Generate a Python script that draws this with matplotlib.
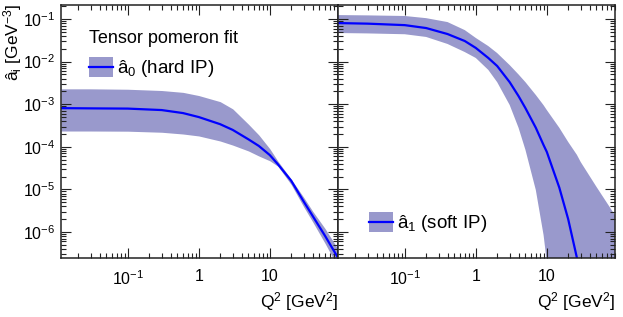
import math
import matplotlib
matplotlib.use('Agg')
import matplotlib.pyplot as plt
from matplotlib.patches import Rectangle
from matplotlib.lines import Line2D
from matplotlib.ticker import LogLocator, FuncFormatter, NullFormatter

plt.rcParams['font.family'] = ['Liberation Sans', 'DejaVu Sans']
plt.rcParams['mathtext.fontset'] = 'custom'
plt.rcParams['mathtext.rm'] = 'Liberation Sans'
plt.rcParams['mathtext.it'] = 'Liberation Sans:italic'
plt.rcParams['mathtext.bf'] = 'Liberation Sans:bold'

# ---- data ----
q2_hard = [0.0115, 0.03, 0.1, 0.3, 0.6, 1, 2, 3, 5, 7, 10, 13, 20, 30, 40, 60, 91]
a0_central = [8.1e-4, 8.0e-4, 7.9e-4, 7.3e-4, 6.2e-4, 5.0e-4, 3.4e-4, 2.5e-4, 1.5e-4, 1.05e-4,
              6.4e-5, 3.9e-5, 1.6e-5, 5.2e-6, 2.4e-6, 8.1e-7, 2.5e-7]
a0_upper = [2.3e-3, 2.3e-3, 2.25e-3, 2.1e-3, 1.9e-3, 1.6e-3, 1.15e-3, 7.8e-4, 3.4e-4, 1.9e-4,
            9.0e-5, 4.6e-5, 1.74e-5, 6.5e-6, 3.1e-6, 1.2e-6, 4.0e-7]
a0_lower = [2.35e-4, 2.35e-4, 2.33e-4, 2.2e-4, 2.0e-4, 1.8e-4, 1.37e-4, 1.1e-4, 8.0e-5, 6.1e-5,
            4.7e-5, 3.5e-5, 1.3e-5, 3.9e-6, 1.75e-6, 5.4e-7, 1.5e-7]

q2_soft = [0.0115, 0.03, 0.1, 0.2, 0.4, 0.7, 1, 1.5, 2, 3, 4, 5, 7, 9, 10, 15, 20, 26.5, 30, 50, 91]
a1_central = [0.0805, 0.078, 0.072, 0.0615, 0.0445, 0.0305, 0.021, 0.0122, 7.9e-3, 3.3e-3, 1.55e-3,
              8.1e-4, 2.8e-4, 1.1e-4, 7.6e-5, 1.1e-5, 2.0e-6, 2.5e-7, 8e-8, 1e-10, 1e-13]
a1_upper = [0.124, 0.122, 0.118, 0.105, 0.085, 0.055, 0.036, 0.0232, 0.0159, 8.3e-3, 5.0e-3,
            3.3e-3, 1.65e-3, 9.5e-4, 7.3e-4, 2.8e-4, 1.3e-4, 6.5e-5, 4.4e-5, 1.15e-5, 2.5e-6]
a1_lower = [0.047, 0.046, 0.044, 0.038, 0.026, 0.0168, 0.0122, 6.4e-3, 3.3e-3, 9.6e-4, 2.8e-4,
            8.5e-5, 9.7e-6, 8.5e-7, 2e-7, 1e-9, 1e-10, 1e-11, 1e-12, 1e-13, 1e-14]

title_text = "Tensor pomeron fit"
label_hard = "â$_{0}$ (hard IP)"
label_soft = "â$_{1}$ (soft IP)"
ylabel_text = "â$_{\\mathrm{i}}$ [GeV$^{-3}$]"
xlabel_text = "Q$^{2}$ [GeV$^{2}$]"

XLIM = (10 ** -1.94, 10 ** 1.96)
YLIM = (10 ** -6.61, 10 ** -0.67)

BAND = '#9999cc'
LINE = '#0000ff'

W, H = 623, 317
fig = plt.figure(figsize=(W / 100, H / 100), dpi=100)


def px(x, y):
    return x / W, 1 - y / H


ax_l = fig.add_axes([61 / W, 1 - 258 / H, 277 / W, 253 / H])
ax_r = fig.add_axes([338 / W, 1 - 258 / H, 277 / W, 253 / H])


def xfmt(v, pos):
    if abs(v - 1) < 1e-9:
        return '1'
    if abs(v - 10) < 1e-9:
        return '10'
    e = int(round(math.log10(v)))
    return '$10^{%d}$' % e


def yfmt(v, pos):
    e = int(round(math.log10(v)))
    return '$10^{%d}$' % e


for ax in (ax_l, ax_r):
    ax.set_xscale('log')
    ax.set_yscale('log')
    ax.set_xlim(*XLIM)
    ax.set_ylim(*YLIM)
    ax.xaxis.set_major_locator(LogLocator(base=10, numticks=20))
    ax.xaxis.set_minor_locator(LogLocator(base=10, subs=range(2, 10), numticks=20))
    ax.yaxis.set_major_locator(LogLocator(base=10, numticks=20))
    ax.yaxis.set_minor_locator(LogLocator(base=10, subs=range(2, 10), numticks=20))
    ax.xaxis.set_major_formatter(FuncFormatter(xfmt))
    ax.xaxis.set_minor_formatter(NullFormatter())
    ax.tick_params(which='both', direction='in', top=True, right=True, width=0.8, color='#222222')
    ax.tick_params(which='major', length=7, labelsize=11.5)
    ax.tick_params(which='minor', length=3.5)
    ax.tick_params(axis='x', which='major', pad=8)
    for s in ax.spines.values():
        s.set_linewidth(1.1)
        s.set_color('#222222')

ax_l.yaxis.set_major_formatter(FuncFormatter(yfmt))
ax_l.yaxis.set_minor_formatter(NullFormatter())
ax_l.tick_params(axis='y', which='major', pad=4)
ax_r.yaxis.set_major_formatter(NullFormatter())
ax_r.yaxis.set_minor_formatter(NullFormatter())

ax_l.fill_between(q2_hard, a0_lower, a0_upper, color=BAND, lw=0)
ax_l.plot(q2_hard, a0_central, color=LINE, lw=1.6)
ax_r.fill_between(q2_soft, a1_lower, a1_upper, color=BAND, lw=0)
ax_r.plot(q2_soft, a1_central, color=LINE, lw=1.6)

# axis titles
fig.text(*px(338, 307), xlabel_text, ha='right', va='baseline', fontsize=12.5)
fig.text(*px(615, 307), xlabel_text, ha='right', va='baseline', fontsize=12.5)
fig.text(*px(13, 4), ylabel_text, ha='center', va='top', rotation=90, fontsize=12.5)

# legends (manual)
fig.text(*px(89, 43), title_text, ha='left', va='baseline', fontsize=13)


def legend_entry(x0, y0, text):
    w, h = 24, 20
    fig.patches.append(Rectangle(px(x0, y0 + h), w / W, h / H, transform=fig.transFigure,
                                 facecolor=BAND, edgecolor='none'))
    fig.lines.append(Line2D([x0 / W, (x0 + w) / W], [1 - (y0 + h / 2) / H] * 2,
                            transform=fig.transFigure, color=LINE, lw=1.6))
    fig.text(*px(x0 + 28, y0 + 16), text, ha='left', va='baseline', fontsize=13.5)


legend_entry(89, 57, label_hard)
legend_entry(369, 212, label_soft)

fig.savefig('out.png', dpi=100)
